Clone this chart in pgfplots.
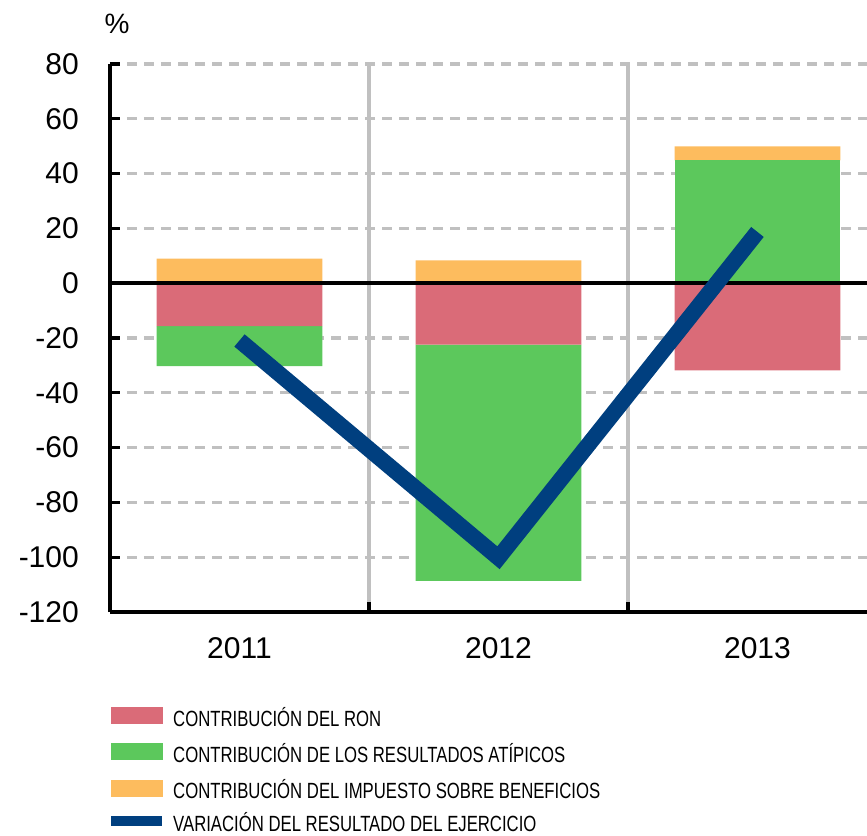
\documentclass[border=0pt]{standalone}
\usepackage{fontspec}
\setmainfont{Liberation Sans}
\newfontfamily\condfont{Liberation Sans}[FakeStretch=0.76]
\usepackage{pgfplots}
\pgfplotsset{compat=1.18}
\definecolor{ronred}{RGB}{218,107,120}
\definecolor{atigreen}{RGB}{92,200,92}
\definecolor{taxorange}{RGB}{253,188,94}
\definecolor{navyline}{RGB}{0,63,127}
\definecolor{gridgray}{RGB}{192,192,192}
\pgfplotsset{
  base/.style={
    scale only axis, width=757pt, height=548pt,
    xmin=-0.5, xmax=2.423, ymin=-120, ymax=80,
    enlargelimits=false,
    /pgf/number format/assume math mode=true,
  },
}
\begin{document}
\begin{tikzpicture}
% axis 1: grid, ticks, negative parts
\begin{axis}[base, ybar stacked, bar width=0.64,
  axis x line*=bottom, axis y line*=left,
  axis line style={-, line width=3.3pt, black},
  xtick={0.5,1.5}, xticklabels={,,},
  extra x ticks={0,1,2}, extra x tick labels={2011,2012,2013},
  extra x tick style={major tick length=0pt, grid=none},
  ytick={-120,-100,...,80},
  grid=major,
  x grid style={gridgray, solid, line width=3.5pt},
  y grid style={gridgray, line width=3.3pt, dash pattern=on 10pt off 7pt},
  tick align=inside, major tick length=10pt,
  tick style={black, line width=3.3pt},
  yticklabel style={font=\fontsize{30}{36}\selectfont, inner sep=0pt, xshift=-31pt},
  xticklabel style={font=\fontsize{30}{36}\selectfont, inner sep=0pt, yshift=-25pt},
  ylabel={\%},
  every axis y label/.style={at={(axis description cs:0,1)}, anchor=base, xshift=7pt, yshift=30pt, font=\fontsize{28}{32}\selectfont},
]
\addplot[fill=ronred, draw=none] coordinates {(0,-15.7) (1,-22.4) (2,-31.8)};
\addplot[fill=atigreen, draw=none] coordinates {(0,-14.6) (1,-86.2) (2,0)};
\end{axis}
% axis 2: positive parts
\begin{axis}[base, ybar stacked, bar width=0.64, hide axis]
\addplot[fill=atigreen, draw=none] coordinates {(0,0) (1,0) (2,44.8)};
\addplot[fill=taxorange, draw=none] coordinates {(0,9.0) (1,8.3) (2,5.1)};
\end{axis}
% axis 3: zero line, result line, legend
\begin{axis}[base, hide axis,
  legend cell align=left,
  legend style={at={(0,0)}, anchor=north west, xshift=-4pt, yshift=-95pt,
    draw=none, fill=none, inner sep=0pt, row sep=16.5pt, column sep=6pt,
    font=\condfont\fontsize{22}{26}\selectfont,
    nodes={inner sep=0pt, text height=15.5pt, text depth=0.5pt}},
]
\addplot[black, line width=3.5pt, forget plot] coordinates {(-0.5,0) (2.423,0)};
\addlegendimage{legend image code/.code={\fill[ronred] (0pt,-4.5pt) rectangle (51pt,11.5pt);}}
\addlegendentry{CONTRIBUCIÓN DEL RON}
\addlegendimage{legend image code/.code={\fill[atigreen] (0pt,-4.5pt) rectangle (51pt,11.5pt);}}
\addlegendentry{CONTRIBUCIÓN DE LOS RESULTADOS ATÍPICOS}
\addlegendimage{legend image code/.code={\fill[taxorange] (0pt,-4.5pt) rectangle (51pt,11.5pt);}}
\addlegendentry{CONTRIBUCIÓN DEL IMPUESTO SOBRE BENEFICIOS}
\addplot[navyline, line width=16pt, line cap=butt, line join=miter, mark=none,
  legend image code/.code={\draw[navyline, line width=10pt] (0pt,3.5pt) -- (51pt,3.5pt);}]
  coordinates {(0,-20.9) (1,-100.2) (2,18.7)};
\addlegendentry{VARIACIÓN DEL RESULTADO DEL EJERCICIO}
\end{axis}
\pgfresetboundingbox
\path[use as bounding box] (-110pt,-223pt) rectangle (757pt,612pt);
\end{tikzpicture}
\end{document}
